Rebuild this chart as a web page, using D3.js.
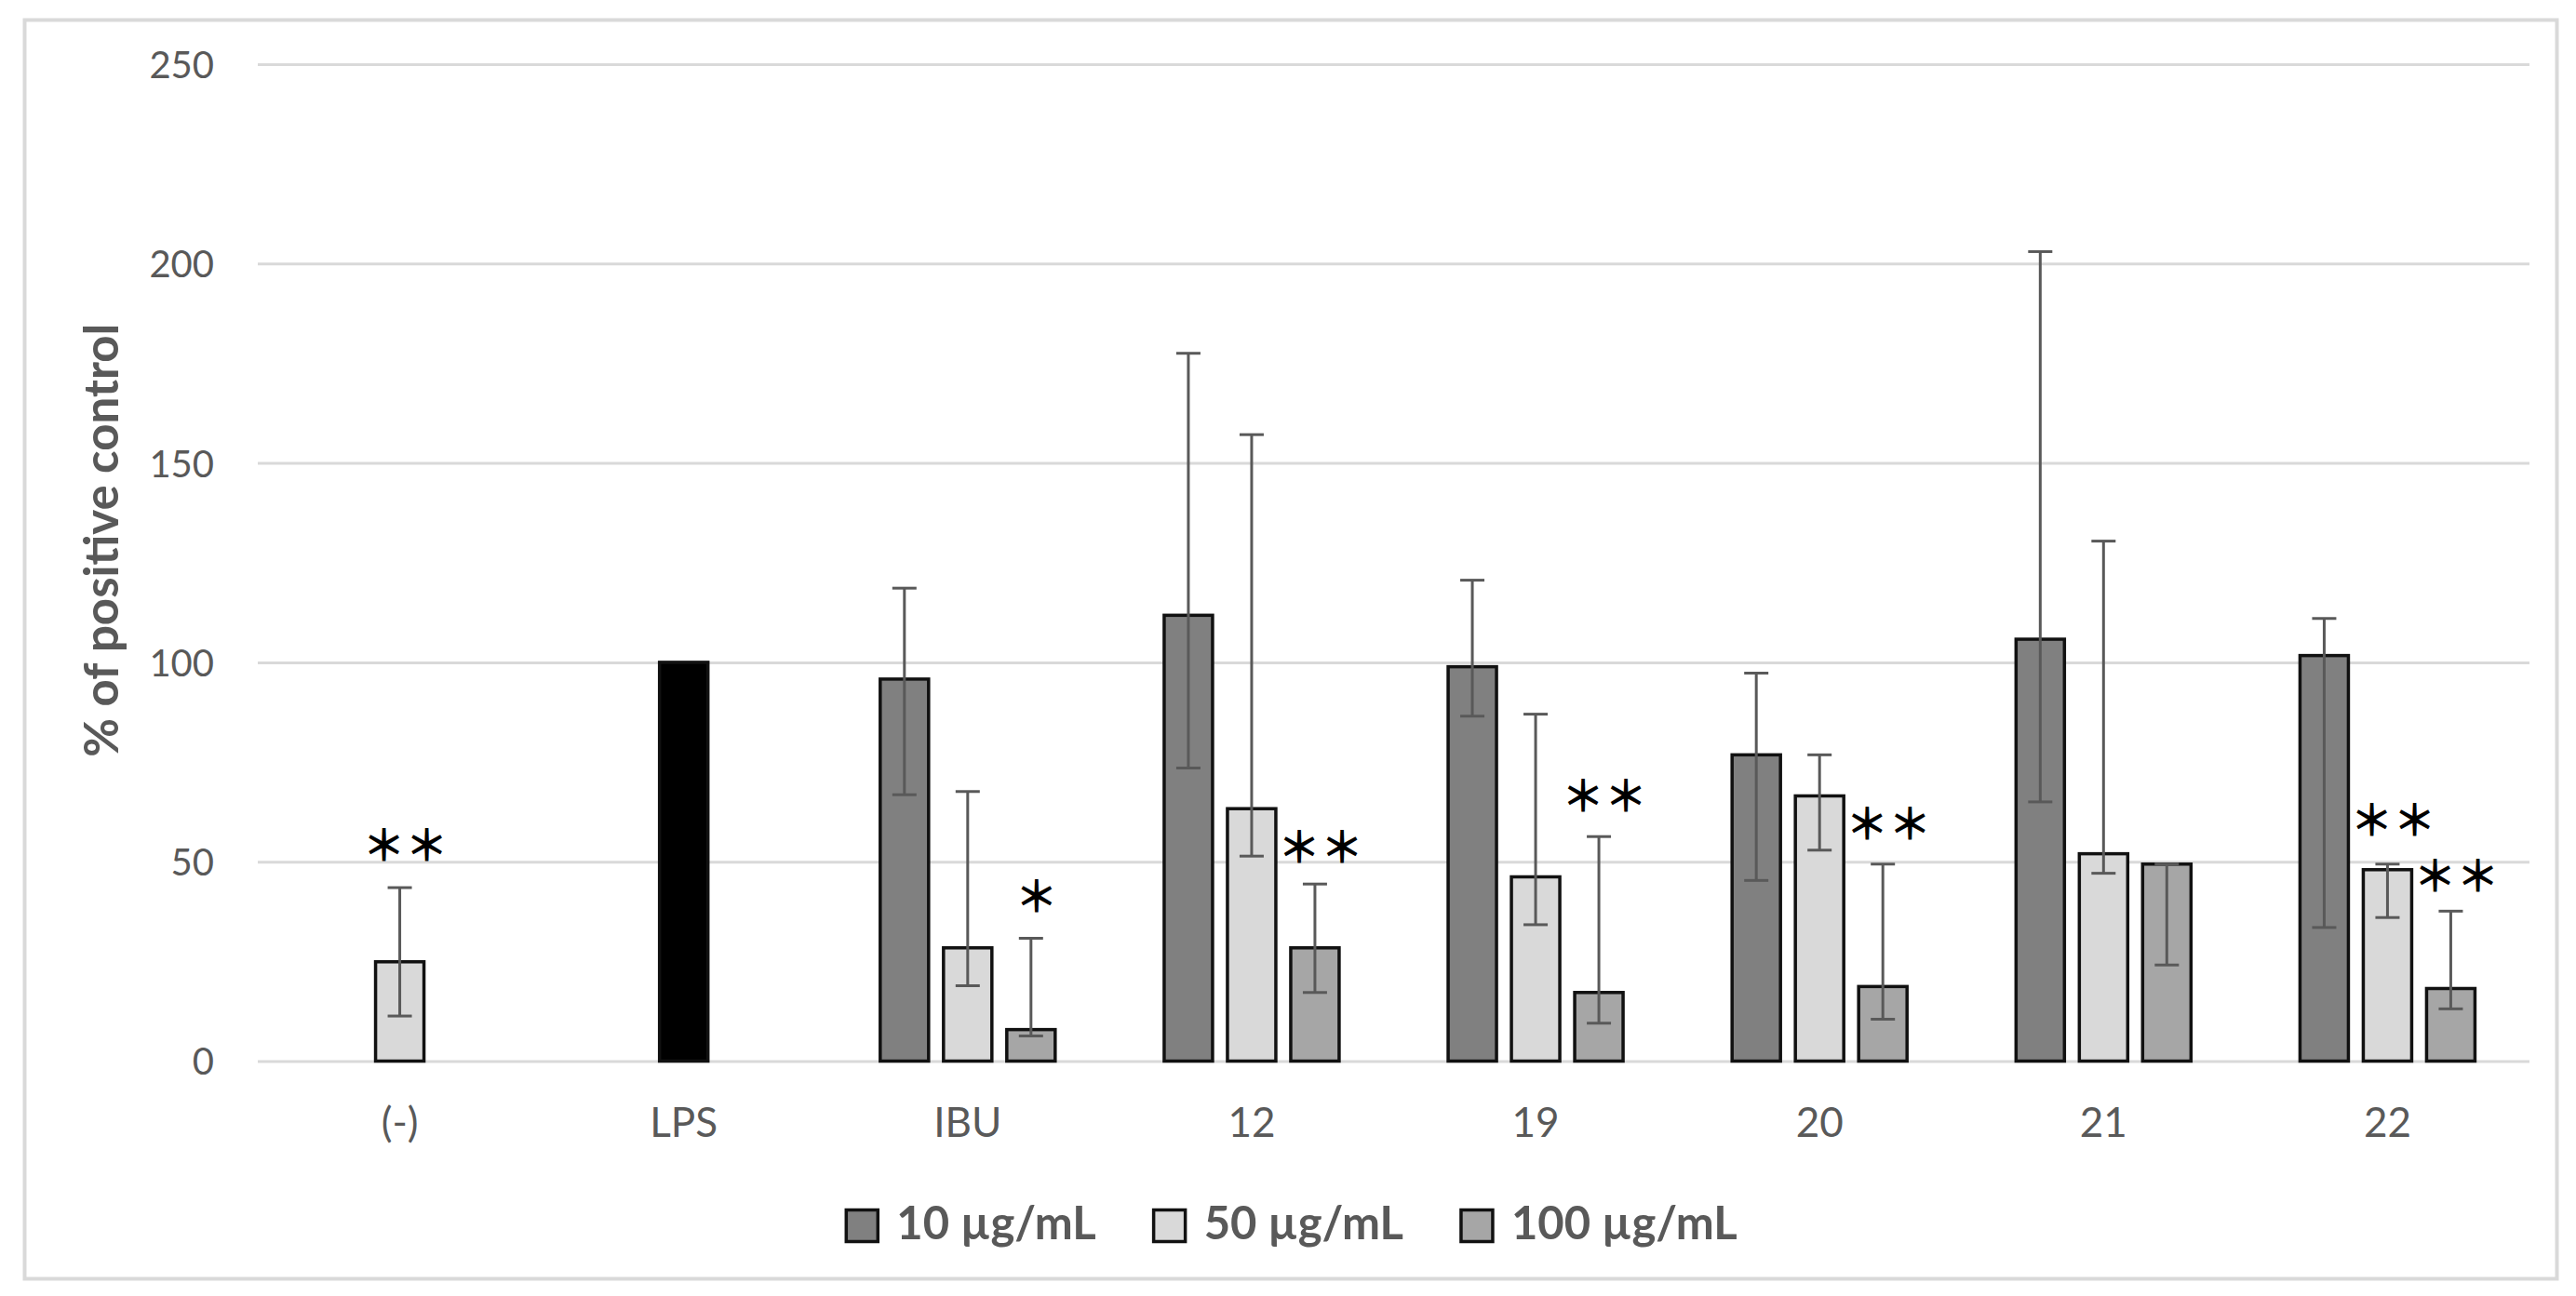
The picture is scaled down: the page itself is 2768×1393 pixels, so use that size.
<!DOCTYPE html>
<html>
<head>
<meta charset="utf-8">
<script src="https://cdn.jsdelivr.net/npm/d3@7"></script>
<style>
  body { margin: 0; background: #ffffff; }
  svg { display: block; }
</style>
</head>
<body>
<svg id="chart"></svg>
<script>
// categories on the x axis
const categories = ["(-)", "LPS", "IBU", "12", "19", "20", "21", "22"];
const seriesNames = ["10 µg/mL", "50 µg/mL", "100 µg/mL"];

// bar heights (% of positive control), null = no bar
const values10 = [null, null, 95.8, 111.8, 98.9, 76.8, 105.8, 101.7];
const values50 = [24.9, 100, 28.4, 63.3, 46.2, 66.5, 52.0, 48.0];
const values100 = [null, null, 7.9, 28.4, 17.2, 18.7, 49.4, 18.2];

// error bar ends
const errLow10 = [null, null, 66.8, 73.5, 86.5, 45.3, 65.0, 33.5];
const errHigh10 = [null, null, 118.6, 177.5, 120.6, 97.3, 203.0, 111.0];
const errLow50 = [11.3, null, 18.9, 51.4, 34.2, 52.9, 47.1, 36.0];
const errHigh50 = [43.5, null, 67.6, 157.1, 87.0, 76.8, 130.4, 49.4];
const errLow100 = [null, null, 6.3, 17.2, 9.5, 10.5, 24.1, 13.1];
const errHigh100 = [null, null, 30.8, 44.4, 56.3, 49.4, 49.4, 37.6];

// y axis ticks
const yTicks = [0, 50, 100, 150, 200, 250];

// significance marks: category, series, label, height of the mark
const sigCategory = ["(-)", "IBU", "12", "19", "20", "22", "22"];
const sigSeries = ["50 µg/mL", "100 µg/mL", "100 µg/mL", "100 µg/mL", "100 µg/mL", "50 µg/mL", "100 µg/mL"];
const sigLabel = ["＊＊", "＊", "＊＊", "＊＊", "＊＊", "＊＊", "＊＊"];
const sigValue = [55, 42, 54.5, 67.2, 60.3, 61.3, 47.3];

const colors = ["#808080", "#d9d9d9", "#a6a6a6"];
const positiveControl = "LPS"; // drawn black

class GroupedBar {

  constructor(_config) {
    this.config = {
      parentElement: _config.parentElement,
      containerWidth: _config.containerWidth || 2768,
      containerHeight: _config.containerHeight || 1393,
      margin: { top: 69, bottom: 252.5, right: 50, left: 277 }
    };
    this.initVis();
  }

  initVis() {
    let vis = this;

    vis.width = vis.config.containerWidth - vis.config.margin.left - vis.config.margin.right;
    vis.height = vis.config.containerHeight - vis.config.margin.top - vis.config.margin.bottom;

    vis.svg = d3.select(vis.config.parentElement)
        .attr('width', vis.config.containerWidth)
        .attr('height', vis.config.containerHeight);

    // outer frame of the chart
    vis.svg.append('rect')
        .attr('x', 26.5).attr('y', 21.5)
        .attr('width', vis.config.containerWidth - 47)
        .attr('height', vis.config.containerHeight - 40)
        .attr('fill', 'none')
        .attr('stroke', '#d9d9d9')
        .attr('stroke-width', 4);

    vis.chart = vis.svg.append('g')
        .attr('transform', `translate(${vis.config.margin.left},${vis.config.margin.top})`);

    vis.xScale = d3.scaleBand()
        .domain(categories)
        .range([0, vis.width]);

    vis.xSub = d3.scalePoint()
        .domain(seriesNames)
        .range([-68, 68]);

    vis.yScale = d3.scaleLinear()
        .domain([0, 250])
        .range([vis.height, 0]);

    vis.yAxis = d3.axisLeft(vis.yScale).tickValues(yTicks).tickSize(-vis.width).tickPadding(47);
    vis.xAxis = d3.axisBottom(vis.xScale).tickSize(0).tickPadding(50);

    vis.yAxisG = vis.chart.append('g').attr('class', 'axis y-axis').call(vis.yAxis);
    vis.yAxisG.select('.domain').remove();
    vis.yAxisG.selectAll('line').attr('stroke', '#d9d9d9').attr('stroke-width', 3);
    vis.yAxisG.selectAll('text')
        .attr('fill', '#595959')
        .style('font-family', 'Lato, "Open Sans", sans-serif')
        .style('font-size', '40px')
        .attr('dy', '0.36em');

    vis.xAxisG = vis.chart.append('g')
        .attr('class', 'axis x-axis')
        .attr('transform', `translate(0,${vis.height})`)
        .call(vis.xAxis);
    vis.xAxisG.select('.domain').remove();
    vis.xAxisG.selectAll('text')
        .attr('fill', '#595959')
        .style('font-family', 'Lato, "Open Sans", sans-serif')
        .style('font-size', '44px');

    vis.svg.append('text')
        .attr('transform', `translate(127,${vis.config.margin.top + vis.height / 2 - 24}) rotate(-90)`)
        .attr('text-anchor', 'middle')
        .attr('fill', '#595959')
        .style('font-family', 'Lato, "Open Sans", sans-serif')
        .style('font-weight', 'bold')
        .style('font-size', '51px')
        .text('% of positive control');

    vis.updateVis();
  }

  updateVis() {
    let vis = this;

    const valueArrays = [values10, values50, values100];
    const lowArrays = [errLow10, errLow50, errLow100];
    const highArrays = [errHigh10, errHigh50, errHigh100];

    vis.data = [];
    seriesNames.forEach((s, si) => {
      categories.forEach((c, ci) => {
        if (valueArrays[si][ci] == null) return;
        vis.data.push({
          category: c, series: s, color: c === positiveControl ? '#000000' : colors[si],
          value: valueArrays[si][ci], low: lowArrays[si][ci], high: highArrays[si][ci]
        });
      });
    });

    vis.barX = d => vis.xScale(d.category) + vis.xScale.bandwidth() / 2 + vis.xSub(d.series);
    const barW = 52;

    vis.chart.append('g').selectAll('rect')
      .data(vis.data)
      .join('rect')
        .attr('x', d => vis.barX(d) - barW / 2)
        .attr('width', barW)
        .attr('y', d => vis.yScale(d.value))
        .attr('height', d => vis.height - vis.yScale(d.value))
        .attr('fill', d => d.color)
        .attr('stroke', '#111111')
        .attr('stroke-width', 3.5);

    // error bars on top of bars
    const errs = vis.data.filter(d => d.low != null);
    const cap = 13;
    const eg = vis.chart.append('g')
        .attr('stroke', '#595959')
        .attr('stroke-width', 3);

    eg.selectAll('.err-v').data(errs).join('line')
        .attr('class', 'err-v')
        .attr('x1', d => vis.barX(d)).attr('x2', d => vis.barX(d))
        .attr('y1', d => vis.yScale(d.low)).attr('y2', d => vis.yScale(d.high));
    eg.selectAll('.err-lo').data(errs).join('line')
        .attr('class', 'err-lo')
        .attr('x1', d => vis.barX(d) - cap).attr('x2', d => vis.barX(d) + cap)
        .attr('y1', d => vis.yScale(d.low)).attr('y2', d => vis.yScale(d.low));
    eg.selectAll('.err-hi').data(errs).join('line')
        .attr('class', 'err-hi')
        .attr('x1', d => vis.barX(d) - cap).attr('x2', d => vis.barX(d) + cap)
        .attr('y1', d => vis.yScale(d.high)).attr('y2', d => vis.yScale(d.high));

    // significance marks
    const sig = sigCategory.map((c, i) => ({ category: c, series: sigSeries[i], label: sigLabel[i], value: sigValue[i] }));
    vis.chart.append('g').selectAll('text')
      .data(sig)
      .join('text')
        .attr('x', d => vis.barX(d) + 6)
        .attr('y', d => vis.yScale(d.value))
        .attr('text-anchor', 'middle')
        .attr('dominant-baseline', 'central')
        .attr('fill', '#000000')
        .style('font-family', '"Noto Sans CJK JP", "DejaVu Sans", sans-serif')
        .style('font-weight', 'bold')
        .style('font-size', '46px')
        .text(d => d.label);

    vis.renderLegend();
  }

  renderLegend() {
    let vis = this;
    const legendY = 1317.5;
    const box = 34;

    const lg = vis.svg.append('g');
    const items = lg.selectAll('g')
      .data(seriesNames)
      .join('g');

    items.append('rect')
        .attr('width', box).attr('height', box)
        .attr('y', legendY - box / 2)
        .attr('fill', (d, i) => colors[i])
        .attr('stroke', '#111111')
        .attr('stroke-width', 3.5);

    items.append('text')
        .attr('x', box + 20)
        .attr('y', legendY + 14.5)
        .attr('fill', '#595959')
        .style('font-family', 'Lato, "Open Sans", sans-serif')
        .style('font-weight', 'bold')
        .style('font-size', '49px')
        .text(d => d);

    // lay the items out side by side, centred on the chart area
    let offset = 0;
    const widths = [];
    items.each(function () { widths.push(this.getBBox().width); });
    const gap = 62;
    const total = d3.sum(widths) + gap * (widths.length - 1);
    const start = 1388 - total / 2;
    items.attr('transform', (d, i) => {
      const t = `translate(${start + offset},0)`;
      offset += widths[i] + gap;
      return t;
    });
  }
}

new GroupedBar({ parentElement: '#chart' });
</script>
</body>
</html>
